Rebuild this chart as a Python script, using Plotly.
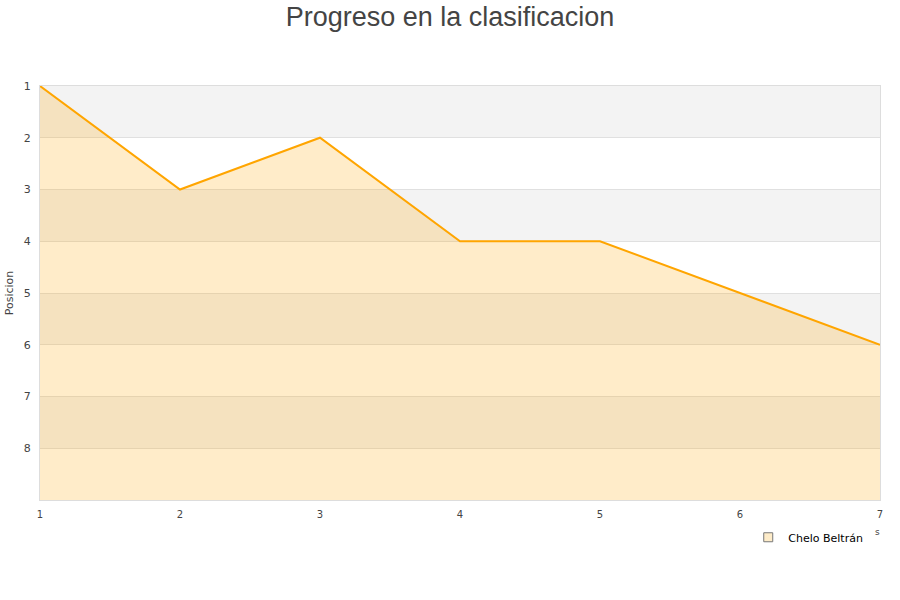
import plotly.graph_objects as go

jornadas = [1, 2, 3, 4, 5, 6, 7]
posiciones = [1, 3, 2, 4, 4, 5, 6]
serie = "Chelo Beltrán"
y_ticks = [1, 2, 3, 4, 5, 6, 7, 8]
y_bottom = 9

fig = go.Figure()
# baseline for fill
fig.add_trace(go.Scatter(x=jornadas, y=[y_bottom] * len(jornadas), mode="lines",
                         line=dict(width=0), showlegend=False, hoverinfo="skip"))
fig.add_trace(go.Scatter(x=jornadas, y=posiciones, mode="lines", name=serie,
                         line=dict(color="#ffa500", width=2), showlegend=False,
                         fill="tonexty", fillcolor="rgba(255,165,0,0.21)"))
# legend entry (square swatch)
fig.add_trace(go.Scatter(x=[None], y=[None], mode="markers", name=serie,
                         marker=dict(symbol="square", size=9, color="#feecc9",
                                     line=dict(color="#777777", width=1))))

shapes = []
for b in [1, 3, 5, 7]:
    shapes.append(dict(type="rect", xref="paper", yref="y", x0=0, x1=1, y0=b, y1=b + 1,
                       fillcolor="#f3f3f3", line=dict(width=0), layer="below"))

fig.update_layout(
    width=900, height=600,
    paper_bgcolor="white", plot_bgcolor="white",
    margin=dict(l=40, r=20, t=86, b=100),
    title=dict(text="Progreso en la clasificacion", x=0.5, xanchor="center", y=0.973, yanchor="middle",
               font=dict(family="Liberation Sans, Arial", size=27, color="#444444")),
    shapes=shapes,
    showlegend=True,
    legend=dict(x=0.986, xanchor="right", y=-0.09, yanchor="middle", bgcolor="rgba(0,0,0,0)",
                font=dict(family="DejaVu Sans", size=11, color="#000000"),
                itemwidth=30),
    font=dict(family="DejaVu Sans", size=11, color="#444444"),
)
fig.update_xaxes(range=[1, 7], tickvals=jornadas, showgrid=False, zeroline=False,
                 showline=True, linecolor="#dddddd", linewidth=1, mirror=True,
                 ticks="", ticklabelstandoff=5, tickfont=dict(size=10, color="#444444"))
fig.update_yaxes(range=[y_bottom, 1], tickvals=y_ticks, showgrid=True, gridcolor="#e0e0e0",
                 zeroline=False, showline=True, linecolor="#dddddd", linewidth=1, mirror=True,
                 ticks="", ticklabelstandoff=6, tickfont=dict(size=11, color="#444444"),
                 automargin=False,
                 title=dict(text="Posicion", font=dict(size=11, color="#444444"), standoff=7))
fig.add_annotation(text="s", xref="paper", yref="paper", x=0.9965, y=-0.094, showarrow=False,
                   font=dict(family="DejaVu Sans", size=9, color="#444444"), xanchor="center")

fig.write_html("out.html", config={"displayModeBar": False},
               post_script="document.body.style.margin='0';")
